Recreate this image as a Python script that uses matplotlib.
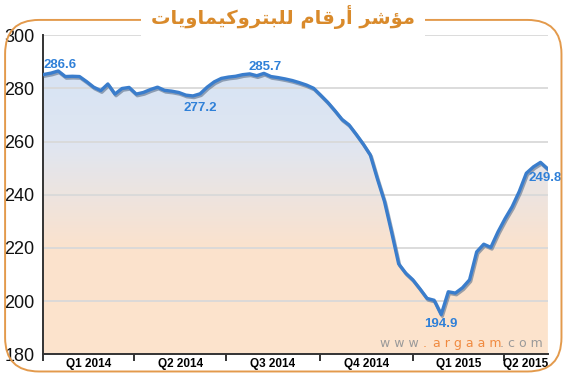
import numpy as np
import pandas as pd
import matplotlib
matplotlib.use("Agg")
import matplotlib.pyplot as plt
import matplotlib.dates as mdates
import matplotlib.patheffects as pe
from matplotlib.patches import FancyBboxPatch
from matplotlib.colors import LinearSegmentedColormap

# weekly index values
dates = pd.date_range("2014-01-02", periods=72, freq="7D")
values = [285.3, 285.8, 286.6, 284.5, 284.6, 284.5, 282.6, 280.5, 279.2, 281.7,
          277.9, 280.0, 280.4, 277.9, 278.5, 279.6, 280.5, 279.3, 279.0, 278.5,
          277.5, 277.2, 278.0, 280.5, 282.5, 283.8, 284.3, 284.6, 285.2, 285.5,
          284.8, 285.7, 284.5, 284.1, 283.6, 283.0, 282.2, 281.3, 280.1, 277.5,
          274.8, 271.7, 268.4, 266.3, 262.8, 259.1, 255.0, 246.0, 237.5, 226.0,
          214.0, 210.5, 208.0, 204.6, 201.0, 200.3, 194.9, 203.5, 203.0, 205.0,
          208.0, 218.5, 221.4, 220.2, 226.0, 231.0, 235.5, 241.2, 248.1, 250.5,
          252.2, 249.8]
quarter_starts = ["2014-01-01", "2014-04-01", "2014-07-01", "2014-10-01",
                  "2015-01-01", "2015-04-01"]
quarter_labels = ["Q1 2014", "Q2 2014", "Q3 2014", "Q4 2014", "Q1 2015", "Q2 2015"]
yticks = [180, 200, 220, 240, 260, 280, 300]
# (index of point, offset in points)
callouts = [(2, (1, 4.5)), (21, (5, -9)), (31, (1, 4.5)), (56, (0, -6.5)), (71, (-1.5, -7))]

title = "مؤشر أرقام للبتروكيماويات"
# matplotlib does no arabic shaping, so give it presentation forms in visual order
shaped = ("\uFEE3\uFE86\uFEB7\uFEAE" + " " +
          "\uFE83\uFEAD\uFED7\uFE8E\uFEE1" + " " +
          "\uFEDF\uFEE0\uFE92\uFE98\uFEAE\uFEED\uFEDB\uFEF4\uFEE4\uFE8E\uFEED\uFEF3\uFE8E\uFE95")
title_visual = shaped[::-1]

plt.rcParams['font.family'] = ['Liberation Sans Narrow', 'Liberation Sans', 'DejaVu Sans']

fig = plt.figure(figsize=(5.66, 3.76), dpi=100)
fig.patch.set_facecolor("white")

# rounded orange frame
frame = FancyBboxPatch((0.009, 0.012), 0.983, 0.935, boxstyle="round,pad=0,rounding_size=0.06",
                       transform=fig.transFigure, fill=False, ec="#e39a4c", lw=1.4,
                       mutation_aspect=566 / 376)
fig.patches.append(frame)
fig.text(0.5, 0.955, title_visual, ha="center", va="center", fontsize=14, fontweight="bold",
         color="#d98a2b", family=["DejaVu Sans"],
         bbox=dict(fc="white", ec="none", pad=7))

ax = fig.add_axes([0.076, 0.058, 0.892, 0.848])
x = mdates.date2num(dates)
y = np.array(values)
x0, x1 = x[0], x[-1]
ax.set_xlim(x0, x1 + 0.3)
ax.set_ylim(180, 300)

# gradient under the curve
cmap = LinearSegmentedColormap.from_list("g", ["#fde4cc", "#fbe2cd", "#dfe6f2", "#d3e2f5"])
grad = np.linspace(0, 1, 256).reshape(-1, 1)
im = ax.imshow(grad, extent=[x0, x1 + 0.3, 180, 300], origin="lower", aspect="auto",
               cmap=cmap, zorder=0)
poly = ax.fill_between(np.append(x, x1 + 0.3), np.append(y, y[-1]), 180, color="none")
im.set_clip_path(poly.get_paths()[0], transform=ax.transData)

for v in yticks[1:]:
    ax.axhline(v, color="#d9d9d9", lw=1.3, zorder=1)

ax.plot(x, y, color="#3a7dcc", lw=2.4, zorder=3, solid_joinstyle="round",
        path_effects=[pe.SimpleLineShadow(offset=(0.8, -1.2), shadow_color="#5a6f8a", alpha=0.6),
                      pe.Normal()])

for i, off in callouts:
    ax.annotate(f"{values[i]:.1f}", (x[i], y[i]), xytext=off, textcoords="offset points",
                ha="center", va="center", color="#2f80d8", fontsize=9.5, fontweight="bold",
                family=["Liberation Sans", "DejaVu Sans"], zorder=4)

for s in ["top", "right"]:
    ax.spines[s].set_visible(False)
for s in ["left", "bottom"]:
    ax.spines[s].set_color("#333333")
    ax.spines[s].set_linewidth(1.4)

ax.set_yticks(yticks)
ax.set_yticklabels([str(v) for v in yticks], fontsize=13)
ax.tick_params(axis="y", length=0, pad=6, colors="#111111")

qs = mdates.date2num(pd.to_datetime(quarter_starts))
ax.set_xticks(qs)
ax.set_xticklabels([])
ax.tick_params(axis="x", which="major", length=5, width=1.4, color="#333333", direction="out")
ends = np.append(qs[1:], x1)
mids = (qs + ends) / 2
ax.set_xticks(mids, minor=True)
ax.set_xticklabels(quarter_labels, minor=True, fontsize=8.5, fontweight="bold",
                   family=["Liberation Sans", "DejaVu Sans"])
ax.tick_params(axis="x", which="minor", length=0, pad=3)

# watermark
wm = dict(transform=ax.transAxes, fontsize=9, va="center", family=["DejaVu Sans"])
ax.text(0.667, 0.035, "w w w", color="#9a9a9a", ha="left", **wm)
ax.text(0.752, 0.035, ".", color="#f08a40", ha="left", **wm)
ax.text(0.772, 0.035, "a r g a a m", color="#f08a40", ha="left", **wm)
ax.text(0.905, 0.035, ". c o m", color="#9a9a9a", ha="left", **wm)

fig.savefig("out.png", dpi=100, facecolor="white")
